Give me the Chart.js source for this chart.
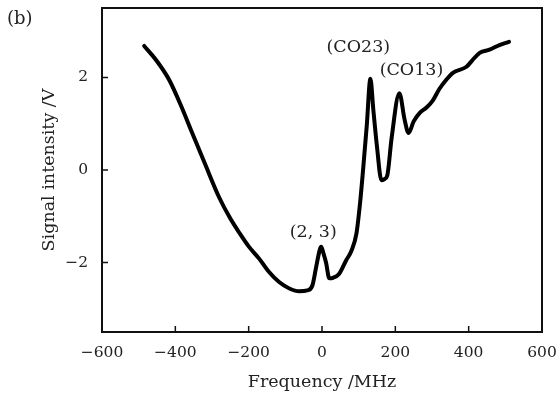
<!DOCTYPE html>
<html>
<head>
<meta charset="utf-8">
<script src="https://cdn.jsdelivr.net/npm/chart.js@4"></script>
<style>
  html, body { margin: 0; padding: 0; background: #fff; }
  #wrap { width: 558px; height: 400px; }
</style>
</head>
<body>
<div id="wrap"><canvas id="signalChart"></canvas></div>
<script>
// Signal trace
const freqMHz = [-485, -450, -417, -385, -354, -320, -280, -250, -226, -200, -171, -145, -117, -89, -62, -40, -26, -16, -6, -2, 4, 11, 20, 30, 47, 66, 80, 94, 104, 112, 122, 132, 140, 150, 162, 170, 178, 190, 211, 225, 236, 250, 266, 285, 302, 320, 339, 357, 394, 410, 430, 457, 484, 510];
const signalV = [2.68, 2.35, 1.95, 1.4, 0.8, 0.15, -0.6, -1.05, -1.35, -1.65, -1.92, -2.2, -2.42, -2.56, -2.62, -2.6, -2.49, -2.1, -1.72, -1.66, -1.8, -2.0, -2.34, -2.33, -2.24, -1.95, -1.75, -1.37, -0.7, 0.0, 0.95, 1.97, 1.3, 0.5, -0.22, -0.2, -0.12, 0.7, 1.66, 1.1, 0.8, 1.05, 1.23, 1.35, 1.5, 1.75, 1.95, 2.1, 2.23, 2.37, 2.53, 2.6, 2.7, 2.77];
const xTicks = [-600, -400, -200, 0, 200, 400, 600];
const yTicks = [-2, 0, 2];
// peak labels: [text, freq, signal]
const peakLabels = [['(CO23)', 99, 2.64], ['(CO13)', 244, 2.16], ['(2, 3)', -24, -1.34]];

const FONT = 'DejaVu Serif';
const fmt = v => (v < 0 ? '\u2212' + Math.abs(v) : String(v));

const framePlugin = {
  id: 'frame',
  afterDraw(chart) {
    const { ctx, chartArea: a, scales } = chart;
    ctx.save();
    ctx.strokeStyle = '#111';
    ctx.lineWidth = 2;
    ctx.strokeRect(a.left, a.top, a.right - a.left, a.bottom - a.top);
    // inward ticks
    ctx.lineWidth = 1.5;
    ctx.beginPath();
    xTicks.forEach(t => {
      const x = scales.x.getPixelForValue(t);
      ctx.moveTo(x, a.bottom);
      ctx.lineTo(x, a.bottom - 6);
    });
    yTicks.forEach(t => {
      const y = scales.y.getPixelForValue(t);
      ctx.moveTo(a.left, y);
      ctx.lineTo(a.left + 6, y);
    });
    ctx.stroke();
    // annotations
    ctx.fillStyle = '#222';
    ctx.font = '17.5px "' + FONT + '"';
    ctx.textAlign = 'center';
    ctx.textBaseline = 'middle';
    peakLabels.forEach(([txt, fx, fy]) => {
      ctx.fillText(txt, scales.x.getPixelForValue(fx), scales.y.getPixelForValue(fy));
    });
    ctx.textAlign = 'left';
    ctx.font = '18px "' + FONT + '"';
    ctx.fillText('(b)', 7, 19);
    ctx.restore();
  }
};

const ctx = document.getElementById('signalChart').getContext('2d');
const signalChart = new Chart(ctx, {
  type: 'line',
  data: {
    datasets: [
      {
        data: freqMHz.map((f, i) => ({ x: f, y: signalV[i] })),
        borderColor: '#000',
        borderWidth: 4,
        pointRadius: 0,
        fill: false,
        tension: 0,
        cubicInterpolationMode: 'monotone',
        borderJoinStyle: 'round',
        borderCapStyle: 'round',
      },
    ],
  },
  options: {
    responsive: true,
    maintainAspectRatio: false,
    animation: false,
    layout: { padding: { left: 0, right: 16, top: 8, bottom: 0 } },
    plugins: {
      legend: { display: false },
      tooltip: { enabled: false },
    },
    scales: {
      x: {
        type: 'linear',
        min: -600,
        max: 600,
        afterBuildTicks: s => { s.ticks = xTicks.map(v => ({ value: v })); },
        afterFit: s => { s.height = 68; s.paddingLeft = 0; s.paddingRight = 0; },
        grid: { display: false, drawTicks: false },
        border: { display: false },
        ticks: {
          padding: 12,
          color: '#222',
          font: { family: FONT, size: 15.5 },
          callback: v => fmt(v),
        },
        title: {
          display: true,
          text: 'Frequency /MHz',
          color: '#222',
          font: { family: FONT, size: 17.5 },
          padding: { top: 4, bottom: 7 },
        },
      },
      y: {
        min: -3.5,
        max: 3.5,
        afterBuildTicks: s => { s.ticks = yTicks.map(v => ({ value: v })); },
        afterFit: s => { s.width = 102; s.paddingTop = 0; s.paddingBottom = 0; },
        grid: { display: false, drawTicks: false },
        border: { display: false },
        ticks: {
          padding: 14,
          color: '#222',
          font: { family: FONT, size: 15.5 },
          callback: v => fmt(v),
        },
        title: {
          display: true,
          text: 'Signal intensity /V',
          color: '#222',
          font: { family: FONT, size: 17.5 },
          padding: { top: 39, bottom: 0 },
        },
      },
    },
  },
  plugins: [framePlugin],
});
</script>
</body>
</html>
